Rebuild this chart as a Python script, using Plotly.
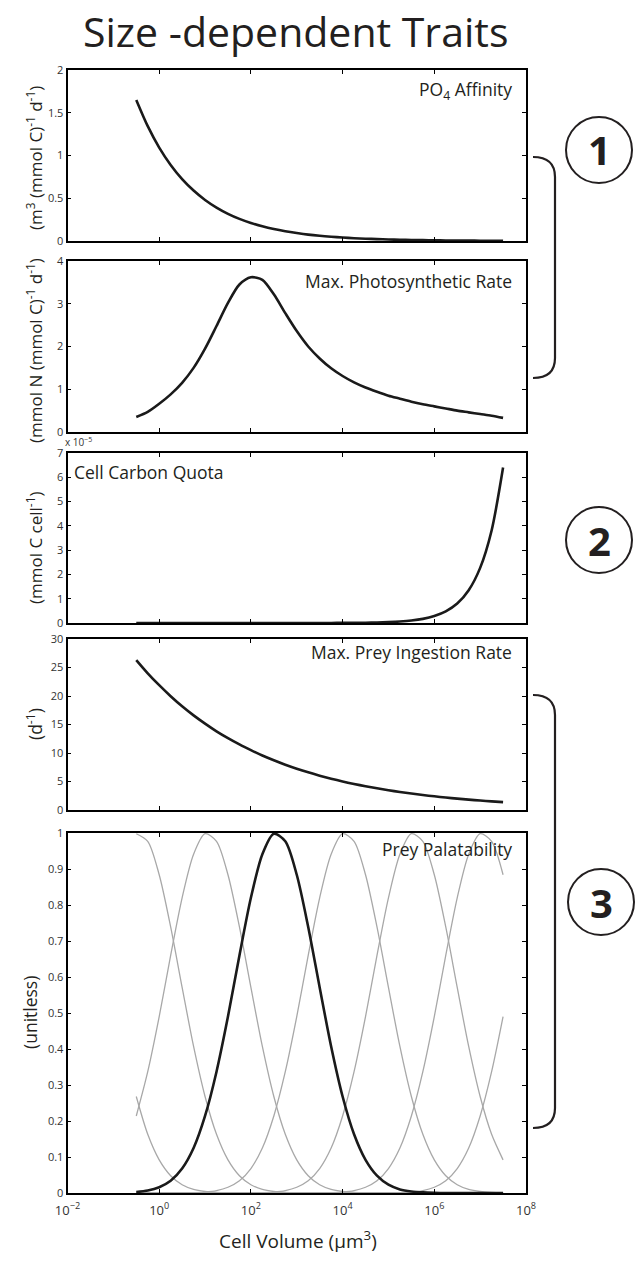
import plotly.graph_objects as go

# ---------------- data ----------------
log10_volume = [-0.5 + 0.25 * i for i in range(33)]  # log10 of cell volume (um^3), grid
volume = [10 ** v for v in log10_volume]

po4_affinity = [1.65, 1.343, 1.093, 0.890, 0.724, 0.590, 0.480, 0.391, 0.318, 0.259,
                0.211, 0.172, 0.140, 0.114, 0.093, 0.075, 0.061, 0.050, 0.041, 0.033,
                0.027, 0.022, 0.018, 0.015, 0.012, 0.0097, 0.0079, 0.0064, 0.0052, 0.0043,
                0.0035, 0.0028, 0.0023]

max_photo_rate = [0.35, 0.47, 0.66, 0.88, 1.15, 1.50, 1.95, 2.48, 3.02, 3.45,
                  3.62, 3.56, 3.22, 2.78, 2.36, 2.00, 1.72, 1.49, 1.31, 1.16,
                  1.04, 0.94, 0.85, 0.78, 0.71, 0.65, 0.60, 0.55, 0.50, 0.46,
                  0.42, 0.38, 0.33]

carbon_quota_e5 = [0.0, 0.0, 0.0, 0.0, 0.0, 0.0, 0.0, 0.0, 0.0, 0.0,
                   0.0001, 0.0001, 0.0002, 0.0003, 0.0006, 0.0010, 0.0016, 0.0027, 0.0045, 0.0076,
                   0.013, 0.021, 0.036, 0.060, 0.10, 0.17, 0.29, 0.48, 0.80, 1.35,
                   2.27, 3.81, 6.40]

max_ingestion = [26.3, 23.98, 21.9, 19.97, 18.2, 16.6, 15.15, 13.8, 12.6, 11.5,
                 10.5, 9.56, 8.72, 7.95, 7.25, 6.61, 6.03, 5.50, 5.01, 4.57,
                 4.17, 3.80, 3.47, 3.16, 2.88, 2.63, 2.40, 2.19, 1.99, 1.82,
                 1.66, 1.51, 1.38]

# palatability of prey size classes: highlighted predator (black) and neighbours (grey)
palat_grey_1 = [0.268, 0.163, 0.092, 0.048, 0.023, 0.010, 0.0042, 0.0016, 0.0005] + [0.0] * 24
palat_grey_2 = [0.998, 0.977, 0.884, 0.739, 0.571, 0.407, 0.268, 0.163, 0.092, 0.048,
                0.023, 0.010, 0.0042, 0.0016, 0.0005] + [0.0] * 18
palat_grey_3 = [0.214, 0.337, 0.490, 0.660, 0.820, 0.941, 0.998,
                0.977, 0.884, 0.739, 0.571, 0.407, 0.268, 0.163, 0.092, 0.048,
                0.023, 0.010, 0.0042, 0.0016, 0.0005] + [0.0] * 12
palat_black = [0.0026, 0.0067, 0.016, 0.034, 0.068, 0.125, 0.214, 0.337, 0.490, 0.660,
               0.820, 0.941, 0.998, 0.977, 0.884, 0.739, 0.571, 0.407, 0.268, 0.163,
               0.092, 0.048, 0.023, 0.010, 0.0042, 0.0016, 0.0005, 0.0, 0.0, 0.0,
               0.0, 0.0, 0.0]
palat_grey_4 = [0.0] * 5 + [0.0010, 0.0026, 0.0067, 0.016, 0.034, 0.068, 0.125, 0.214, 0.337, 0.490,
                            0.660, 0.820, 0.941, 0.998, 0.977, 0.884, 0.739, 0.571, 0.407, 0.268,
                            0.163, 0.092, 0.048, 0.023, 0.010, 0.0042, 0.0016, 0.0005]
palat_grey_5 = [0.0] * 11 + [0.0010, 0.0026, 0.0067, 0.016, 0.034, 0.068, 0.125, 0.214, 0.337, 0.490,
                             0.660, 0.820, 0.941, 0.998, 0.977, 0.884, 0.739, 0.571, 0.407, 0.268,
                             0.163, 0.092]
palat_grey_6 = [0.0] * 17 + [0.0010, 0.0026, 0.0067, 0.016, 0.034, 0.068, 0.125, 0.214, 0.337, 0.490,
                             0.660, 0.820, 0.941, 0.998, 0.977, 0.884]
palat_grey_7 = [0.0] * 23 + [0.0010, 0.0026, 0.0067, 0.016, 0.034, 0.068, 0.125, 0.214, 0.337, 0.490]
palat_greys = [palat_grey_1, palat_grey_2, palat_grey_3, palat_grey_4,
               palat_grey_5, palat_grey_6, palat_grey_7]

x_tick_vals = [1e-2, 1e0, 1e2, 1e4, 1e6, 1e8]
x_tick_text = ["10<sup>−2</sup>", "10<sup>0</sup>", "10<sup>2</sup>", "10<sup>4</sup>",
               "10<sup>6</sup>", "10<sup>8</sup>"]

panel_labels = ["PO<sub>4</sub> Affinity", "Max. Photosynthetic Rate", "Cell Carbon Quota",
                "Max. Prey Ingestion Rate", "Prey Palatability"]
y_titles = ["(m<sup>3</sup> (mmol C)<sup>-1</sup> d<sup>-1</sup>)",
            "(mmol N (mmol C)<sup>-1</sup> d<sup>-1</sup>)",
            "(mmol C cell<sup>-1</sup>)",
            "(d<sup>-1</sup>)",
            "(unitless)"]
y_ranges = [[0, 2], [0, 4], [0, 7], [0, 30], [0, 1]]
y_dticks = [0.5, 1, 1, 5, 0.1]
group_numbers = ["1", "2", "3"]

# ---------------- layout helpers (pixel -> paper) ----------------
W, H = 642, 1264
def px(x):
    return x / W
def py(y):
    return 1 - y / H

FONT = "Open Sans"
TXT = "#231f20"

panels_px = [(70, 241), (261, 432), (453, 623), (639, 810), (833, 1193)]
x_left, x_right = 67.5, 526

fig = go.Figure()

series = [po4_affinity, max_photo_rate, carbon_quota_e5, max_ingestion]
for i, s in enumerate(series):
    ax = "" if i == 0 else str(i + 1)
    fig.add_trace(go.Scatter(x=volume, y=s, mode="lines", xaxis="x" + ax, yaxis="y" + ax,
                             line=dict(color="#1a1a1a", width=2.6, shape="spline", smoothing=0.8),
                             showlegend=False, hoverinfo="skip"))

for g in palat_greys:
    fig.add_trace(go.Scatter(x=volume, y=g, mode="lines", xaxis="x5", yaxis="y5",
                             line=dict(color="#a8a8a8", width=1.3, shape="spline", smoothing=0.8),
                             showlegend=False, hoverinfo="skip"))
fig.add_trace(go.Scatter(x=volume, y=palat_black, mode="lines", xaxis="x5", yaxis="y5",
                         line=dict(color="#1a1a1a", width=2.6, shape="spline", smoothing=0.8),
                         showlegend=False, hoverinfo="skip"))

layout = dict(width=W, height=H, margin=dict(l=0, r=0, t=0, b=0),
              paper_bgcolor="white", plot_bgcolor="white", showlegend=False,
              font=dict(family=FONT, color=TXT))

for i, (top, bot) in enumerate(panels_px):
    ax = "" if i == 0 else str(i + 1)
    layout["xaxis" + ax] = dict(
        type="log", range=[-2, 8], tickvals=x_tick_vals, ticktext=x_tick_text,
        domain=[px(x_left), px(x_right)], automargin=False,
        anchor="y" + ax, showgrid=False, zeroline=False, showline=True, linecolor="black",
        linewidth=1.8, mirror="ticks", ticks="inside", ticklen=4, tickwidth=1, tickcolor="black",
        showticklabels=(i == 4), ticklabelstandoff=4,
        tickfont=dict(family=FONT, size=13, color="#333333"))
    if i > 0:
        layout["xaxis" + ax]["matches"] = "x"
    layout["yaxis" + ax] = dict(
        range=y_ranges[i], dtick=y_dticks[i], domain=[py(bot), py(top)], anchor="x" + ax,
        automargin=False,
        showgrid=False, zeroline=False, showline=True, linecolor="black", linewidth=1.8,
        mirror="ticks", ticks="inside", ticklen=4, tickwidth=1, tickcolor="black",
        tickfont=dict(family=FONT, size=11, color="#333333"))

annotations = []
# main title
annotations.append(dict(text="Size -dependent Traits", x=px(295), y=py(31), xref="paper", yref="paper",
                        showarrow=False, xanchor="center", yanchor="middle",
                        font=dict(family=FONT, size=41, color=TXT)))
# panel labels
label_pos = [(514, 90, "right"), (514, 281, "right"), (72, 472, "left"), (514, 652, "right"), (514, 849, "right")]
for lab, (lx, ly, anc) in zip(panel_labels, label_pos):
    annotations.append(dict(text=lab, x=px(lx), y=py(ly), xref="paper", yref="paper", showarrow=False,
                            xanchor=anc, yanchor="middle", font=dict(family=FONT, size=17.5, color=TXT)))
# y titles
ytitle_pos = [(34, 158, 17), (34, 351, 17), (34, 548, 17), (34, 724, 17.5), (30, 1013, 17.5)]
for t, (tx, ty, fs) in zip(y_titles, ytitle_pos):
    annotations.append(dict(text=t, x=px(tx), y=py(ty), xref="paper", yref="paper", showarrow=False,
                            textangle=-90, xanchor="center", yanchor="middle",
                            font=dict(family=FONT, size=fs, color=TXT)))
# exponent multiplier of carbon quota axis
annotations.append(dict(text="x 10<sup>−5</sup>", x=px(63), y=py(442), xref="paper", yref="paper",
                        showarrow=False, xanchor="left", yanchor="middle",
                        font=dict(family=FONT, size=10, color="#333333")))
# x title
annotations.append(dict(text="Cell Volume (µm<sup>3</sup>)", x=px(298), y=py(1240), xref="paper", yref="paper",
                        showarrow=False, xanchor="center", yanchor="middle",
                        font=dict(family=FONT, size=19, color=TXT)))

shapes = []
circle_centers = [(599, 150), (599, 540), (601, 902)]
R = 33
for num, (cx, cy) in zip(group_numbers, circle_centers):
    shapes.append(dict(type="circle", xref="paper", yref="paper",
                       x0=px(cx - R), x1=px(cx + R), y0=py(cy + R), y1=py(cy - R),
                       line=dict(color=TXT, width=2)))
    annotations.append(dict(text="<b>%s</b>" % num, x=px(cx), y=py(cy), xref="paper", yref="paper",
                            showarrow=False, xanchor="center", yanchor="middle",
                            font=dict(family=FONT, size=40, color=TXT)))

def bracket(y_top, y_bot, x0=533, x1=555, r=20):
    return ("M {a},{b} Q {c},{b} {c},{d} L {c},{e} Q {c},{f} {a},{f}".format(
        a=px(x0), b=py(y_top), c=px(x1), d=py(y_top + r), e=py(y_bot - r), f=py(y_bot)))

for yt, yb in [(157, 378), (695, 1128)]:
    shapes.append(dict(type="path", xref="paper", yref="paper", path=bracket(yt, yb),
                       line=dict(color=TXT, width=2.2)))

layout["annotations"] = annotations
layout["shapes"] = shapes
fig.update_layout(**layout)

fig.write_html("out.html", config={"displayModeBar": False},
               post_script="document.body.style.margin='0px';")
